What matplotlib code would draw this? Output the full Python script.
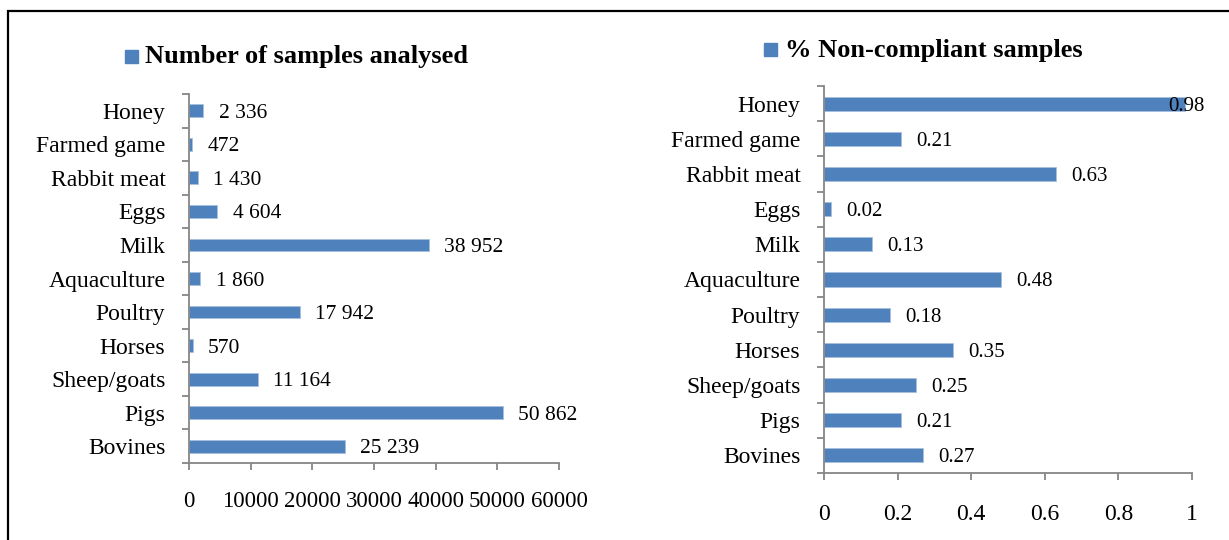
import matplotlib
matplotlib.use('Agg')
import matplotlib.pyplot as plt
from matplotlib.patches import Rectangle

plt.rcParams['font.family'] = ['Liberation Serif', 'DejaVu Serif']

# data (top to bottom as shown)
categories = ['Honey', 'Farmed game', 'Rabbit meat', 'Eggs', 'Milk', 'Aquaculture',
              'Poultry', 'Horses', 'Sheep/goats', 'Pigs', 'Bovines']
samples = [2336, 472, 1430, 4604, 38952, 1860, 17942, 570, 11164, 50862, 25239]
noncompliant = [0.98, 0.21, 0.63, 0.02, 0.13, 0.48, 0.18, 0.35, 0.25, 0.21, 0.27]

bar_color = '#4F81BD'
axis_color = '#868686'
W, H = 1229, 540

fig = plt.figure(figsize=(W / 100, H / 100), dpi=100)

# outer frame (right and bottom edges fall outside the picture)
fig.add_artist(Rectangle((8 / W, -0.1), 1.2, (H - 11) / H + 0.1, transform=fig.transFigure,
                         fill=False, edgecolor='black', linewidth=1.6))


def px(x0, y0, x1, y1):
    return [x0 / W, 1 - y1 / H, (x1 - x0) / W, (y1 - y0) / H]


def panel(rect, values, xmax, step, fmt, xtick_fmt, bar_h, xtick_size, xpad, lab_size):
    ax = fig.add_axes(rect)
    n = len(categories)
    pos = list(range(n))[::-1]
    ax.barh(pos, values, height=bar_h, color=bar_color, edgecolor='#A7C0DE', linewidth=0.6)
    ax.set_xlim(0, xmax)
    ax.set_ylim(-0.5, n - 0.5)
    for s in ['top', 'right']:
        ax.spines[s].set_visible(False)
    for s in ['left', 'bottom']:
        ax.spines[s].set_color(axis_color)
        ax.spines[s].set_linewidth(1.3)
    # category labels on minor ticks, boundary ticks as major
    ax.set_yticks([i - 0.5 for i in range(n + 1)])
    ax.set_yticklabels([])
    ax.set_yticks(pos, minor=True)
    ax.set_yticklabels(categories, minor=True, fontsize=17)
    ax.tick_params(axis='y', which='major', length=5, width=1.3, color=axis_color, direction='out')
    ax.tick_params(axis='y', which='minor', length=0, pad=17)
    ticks = [i * step for i in range(int(round(xmax / step)) + 1)]
    ax.set_xticks(ticks)
    ax.set_xticklabels([xtick_fmt(t) for t in ticks], fontsize=xtick_size)
    ax.tick_params(axis='x', length=5, width=1.3, color=axis_color, direction='out', pad=xpad)
    for p, v in zip(pos, values):
        x_end = v / xmax
        if x_end > 0.93:
            ax.annotate(fmt(v), xy=(1, p), xycoords=('axes fraction', 'data'),
                        xytext=(9, 0), textcoords='offset points', ha='right',
                        va='center_baseline', fontsize=lab_size)
        else:
            ax.annotate(fmt(v), xy=(v, p), xytext=(11, 0), textcoords='offset points',
                        ha='left', va='center_baseline', fontsize=lab_size)
    return ax


panel(px(189, 94, 559, 463), samples, 60000, 10000,
      lambda v: f'{v:,}'.replace(',', ' '), lambda t: f'{int(t)}', 0.38, 16.5, 15.5, 15.5)
panel(px(824, 86, 1192, 473), noncompliant, 1.0, 0.2,
      lambda v: f'{v:.2f}', lambda t: '0' if t == 0 else ('1' if abs(t - 1) < 1e-9 else f'{t:.1f}'),
      0.40, 17, 17.5, 15)

# legend-style titles
fig.add_artist(Rectangle((125 / W, 1 - 63 / H), 13 / W, 13 / H, transform=fig.transFigure,
                         color=bar_color))
fig.text(145 / W, 1 - 57 / H, 'Number of samples analysed', fontsize=19, fontweight='bold',
         va='center', ha='left')
fig.add_artist(Rectangle((764 / W, 1 - 56 / H), 13 / W, 13 / H, transform=fig.transFigure,
                         color=bar_color))
fig.text(785 / W, 1 - 50 / H, '% Non-compliant samples', fontsize=19, fontweight='bold',
         va='center', ha='left')

fig.savefig('out.png', dpi=100)
